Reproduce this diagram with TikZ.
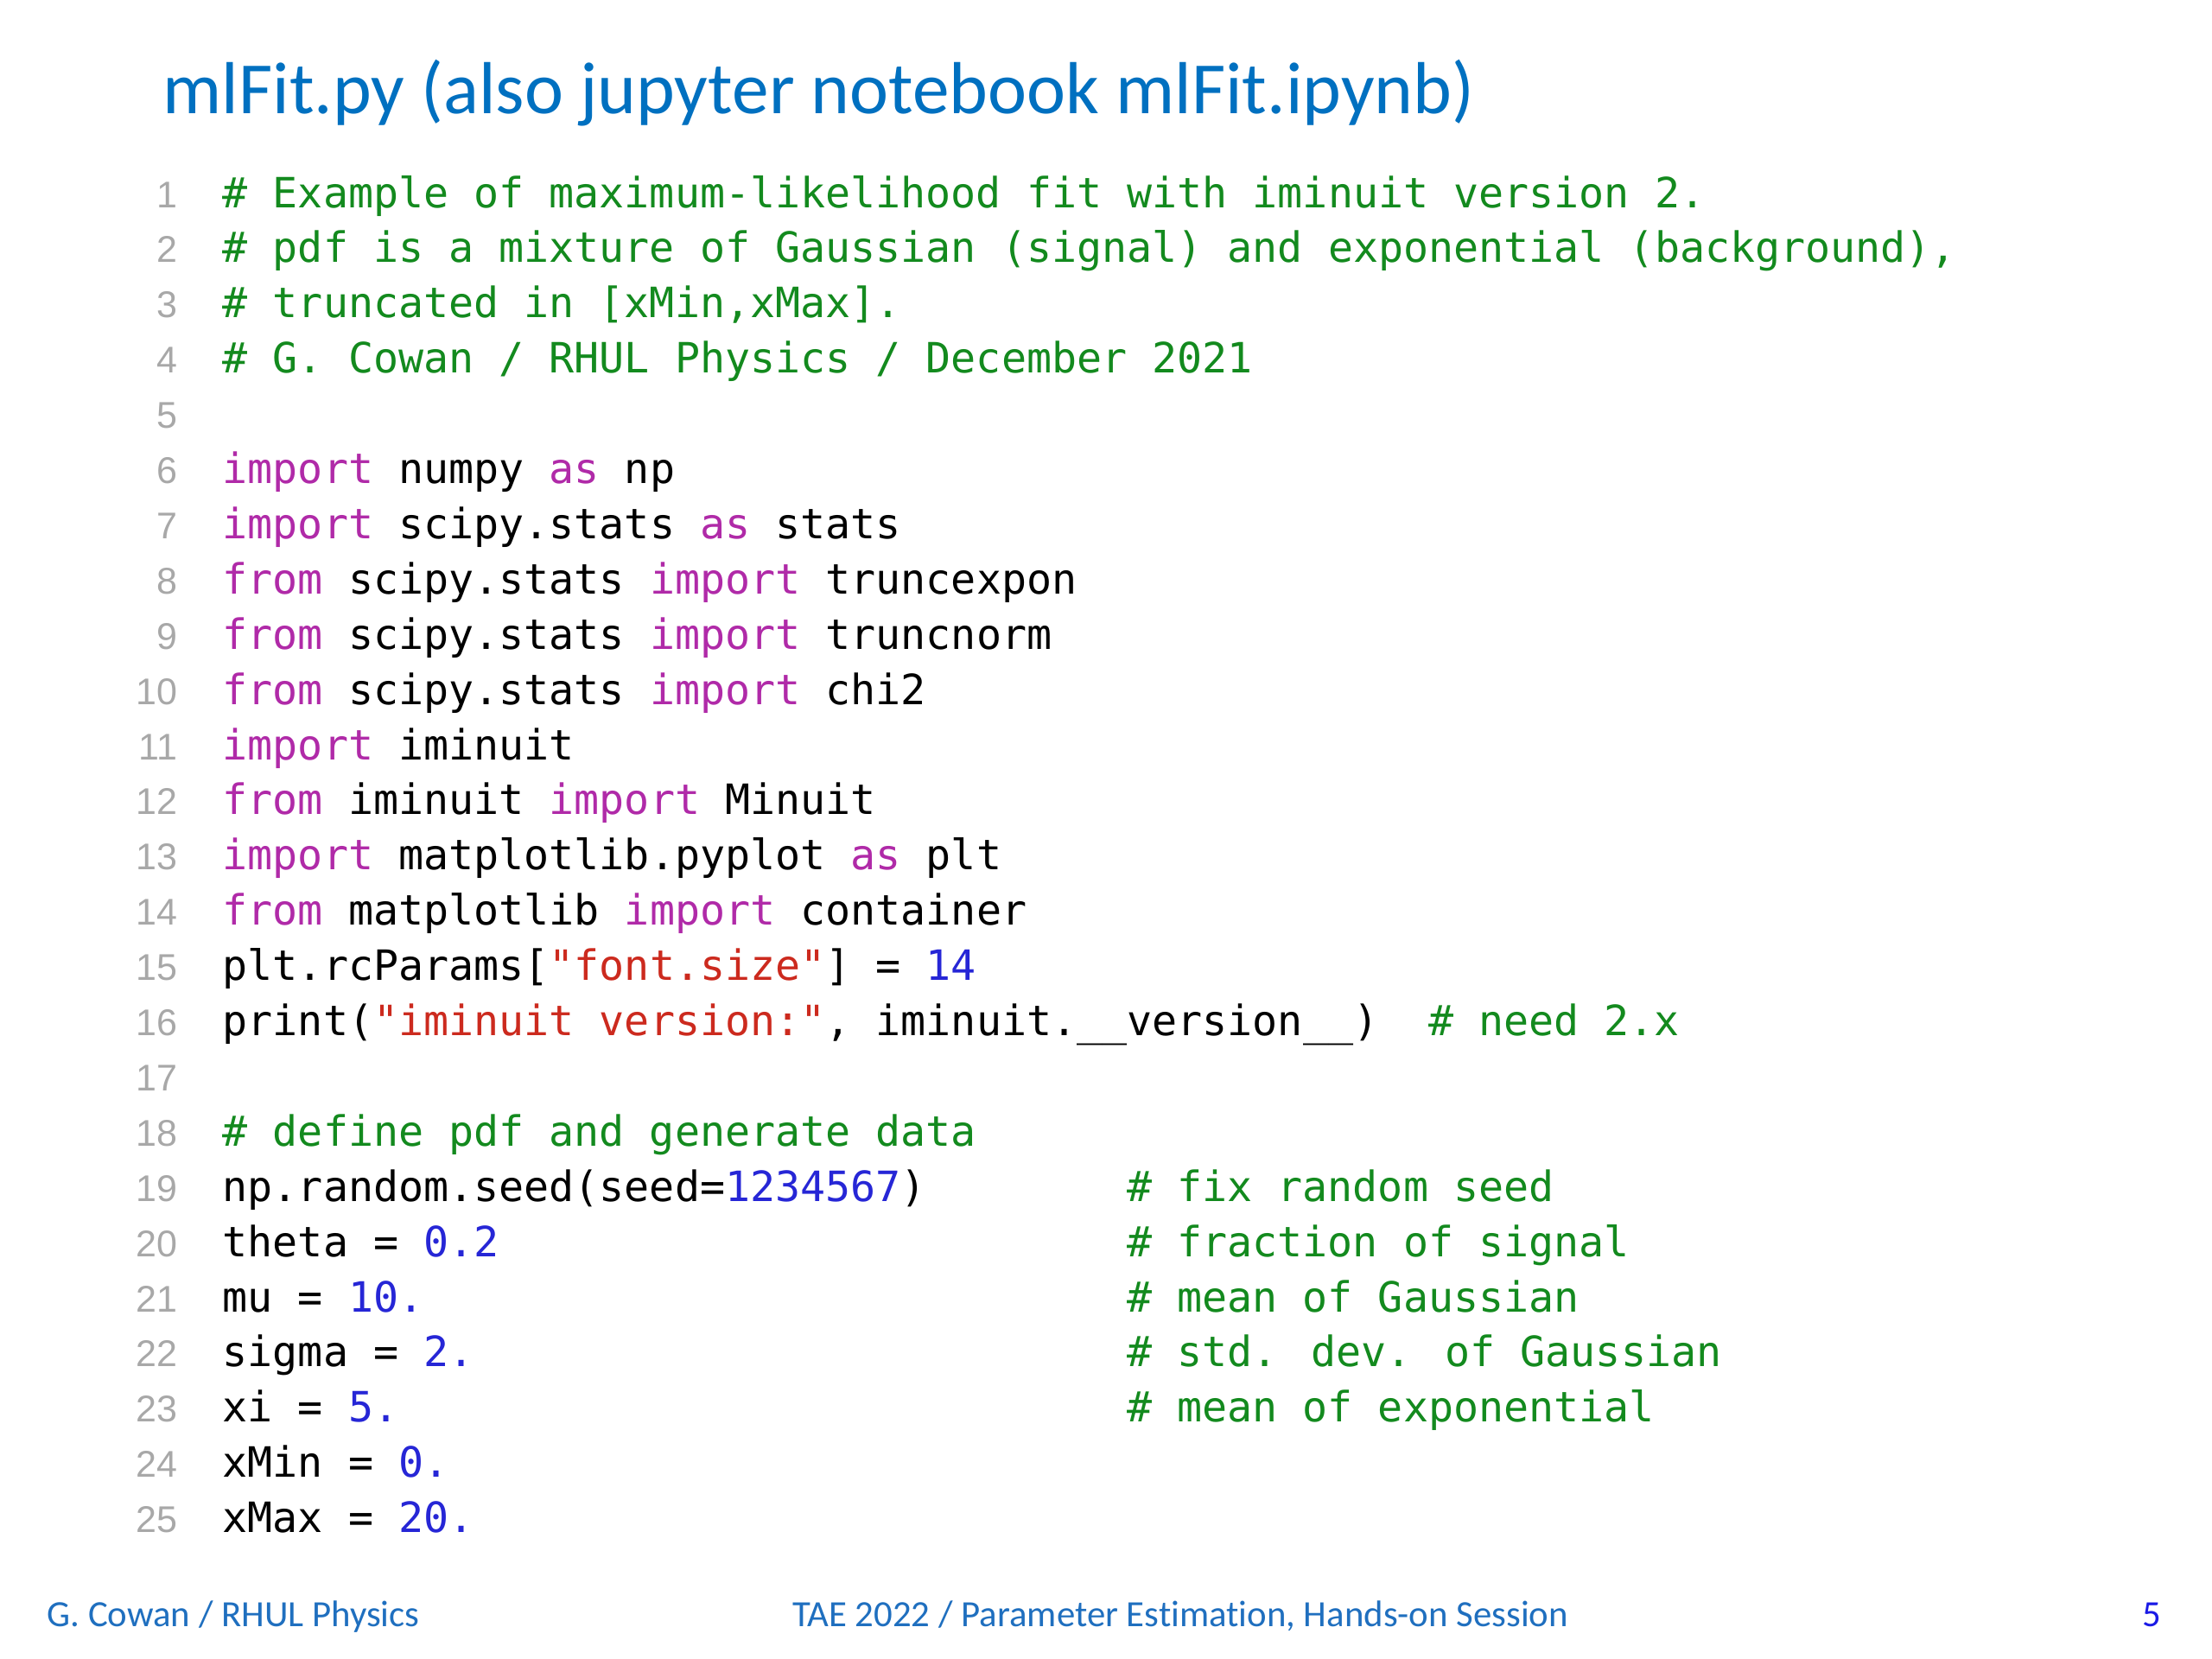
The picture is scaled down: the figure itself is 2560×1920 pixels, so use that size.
\documentclass[tikz,border=0pt]{standalone}
\usepackage{fontspec}
\newfontfamily\codefamily{DejaVu Sans Mono}
\newfontfamily\slidefamily[Ligatures=NoCommon]{Carlito}
\newfontfamily\numfamily{Liberation Sans}
\newcommand\codefont{\codefamily\fontsize{4.83mm}{6mm}\selectfont}
\newcommand\numfont{\numfamily\fontsize{4.3mm}{5mm}\selectfont}
\newcommand\titlefont{\slidefamily\fontsize{8.53mm}{9.5mm}\selectfont}
\newcommand\footfont{\slidefamily\fontsize{4.28mm}{5mm}\selectfont}
\definecolor{titleblue}{HTML}{0070C0}
\definecolor{footblue}{HTML}{1F6FBF}
\definecolor{pageblue}{HTML}{1A1AE6}
\definecolor{cmt}{HTML}{138A1E}
\definecolor{kw}{HTML}{B02AA8}
\definecolor{str}{HTML}{CC2A1E}
\definecolor{num}{HTML}{2626D6}
\definecolor{lngray}{HTML}{A8A8A8}
\newcommand\K[1]{\textcolor{kw}{#1}}
\newcommand\Ss[1]{\textcolor{str}{#1}}
\newcommand\Nn[1]{\textcolor{num}{#1}}
\newcommand\codeat[4]{\node[code] (#1) at ({257+#3*29.07},{240+(#2-1)*63.9}) {#4};}
\tikzset{
  code/.style={anchor=base west, inner sep=0pt, font=\codefont, text=black},
  comment/.style={code, text=cmt},
  lnum/.style={anchor=base east, inner sep=0pt, font=\numfont, text=lngray},
}
\begin{document}
\begin{tikzpicture}[x=0.1mm,y=-0.1mm]
\useasboundingbox (0,0) rectangle (2560,1920);
\fill[white] (0,0) rectangle (2560,1920);
% title
\node[anchor=base west, inner sep=0pt, font=\titlefont, text=titleblue] (title) at (188,131) {mlFit.py (also jupyter notebook mlFit.ipynb)};
% line numbers
\foreach \i in {1,...,25} {
  \node[lnum] (N\i) at (206,{240+(\i-1)*63.9}) {\i};
}
% code
\codeat{L1}{1}{0}{\textcolor{cmt}{\# Example of maximum-likelihood fit with iminuit version 2.}}
\codeat{L2}{2}{0}{\textcolor{cmt}{\# pdf is a mixture of Gaussian (signal) and exponential (background),}}
\codeat{L3}{3}{0}{\textcolor{cmt}{\# truncated in [xMin,xMax].}}
\codeat{L4}{4}{0}{\textcolor{cmt}{\# G. Cowan / RHUL Physics / December 2021}}
\codeat{L6}{6}{0}{\K{import} numpy \K{as} np}
\codeat{L7}{7}{0}{\K{import} scipy.stats \K{as} stats}
\codeat{L8}{8}{0}{\K{from} scipy.stats \K{import} truncexpon}
\codeat{L9}{9}{0}{\K{from} scipy.stats \K{import} truncnorm}
\codeat{L10}{10}{0}{\K{from} scipy.stats \K{import} chi2}
\codeat{L11}{11}{0}{\K{import} iminuit}
\codeat{L12}{12}{0}{\K{from} iminuit \K{import} Minuit}
\codeat{L13}{13}{0}{\K{import} matplotlib.pyplot \K{as} plt}
\codeat{L14}{14}{0}{\K{from} matplotlib \K{import} container}
\codeat{L15}{15}{0}{plt.rcParams[\Ss{"font.size"}] = \Nn{14}}
\codeat{L16}{16}{0}{print(\Ss{"iminuit version:"}, iminuit.\_\_version\_\_)}
\codeat{C16}{16}{48}{\textcolor{cmt}{\# need 2.x}}
\codeat{L18}{18}{0}{\textcolor{cmt}{\# define pdf and generate data}}
\codeat{L19}{19}{0}{np.random.seed(seed=\Nn{1234567})}
\codeat{C19}{19}{36}{\textcolor{cmt}{\# fix random seed}}
\codeat{L20}{20}{0}{theta = \Nn{0.2}}
\codeat{C20}{20}{36}{\textcolor{cmt}{\# fraction of signal}}
\codeat{L21}{21}{0}{mu = \Nn{10.}}
\codeat{C21}{21}{36}{\textcolor{cmt}{\# mean of Gaussian}}
\codeat{L22}{22}{0}{sigma = \Nn{2.}}
\codeat{C22}{22}{36}{\textcolor{cmt}{\# std. dev. of Gaussian}}
\codeat{L23}{23}{0}{xi = \Nn{5.}}
\codeat{C23}{23}{36}{\textcolor{cmt}{\# mean of exponential}}
\codeat{L24}{24}{0}{xMin = \Nn{0.}}
\codeat{L25}{25}{0}{xMax = \Nn{20.}}
% footer
\node[anchor=base west, inner sep=0pt, font=\footfont, text=footblue] (fleft) at (54,1882) {G. Cowan / RHUL Physics};
\node[anchor=base, inner sep=0pt, font=\footfont, text=footblue] (fmid) at (1366,1882) {TAE 2022 / Parameter Estimation, Hands-on Session};
\node[anchor=base east, inner sep=0pt, font=\footfont, text=pageblue] (fpage) at (2502,1882) {5};
\end{tikzpicture}
\end{document}
